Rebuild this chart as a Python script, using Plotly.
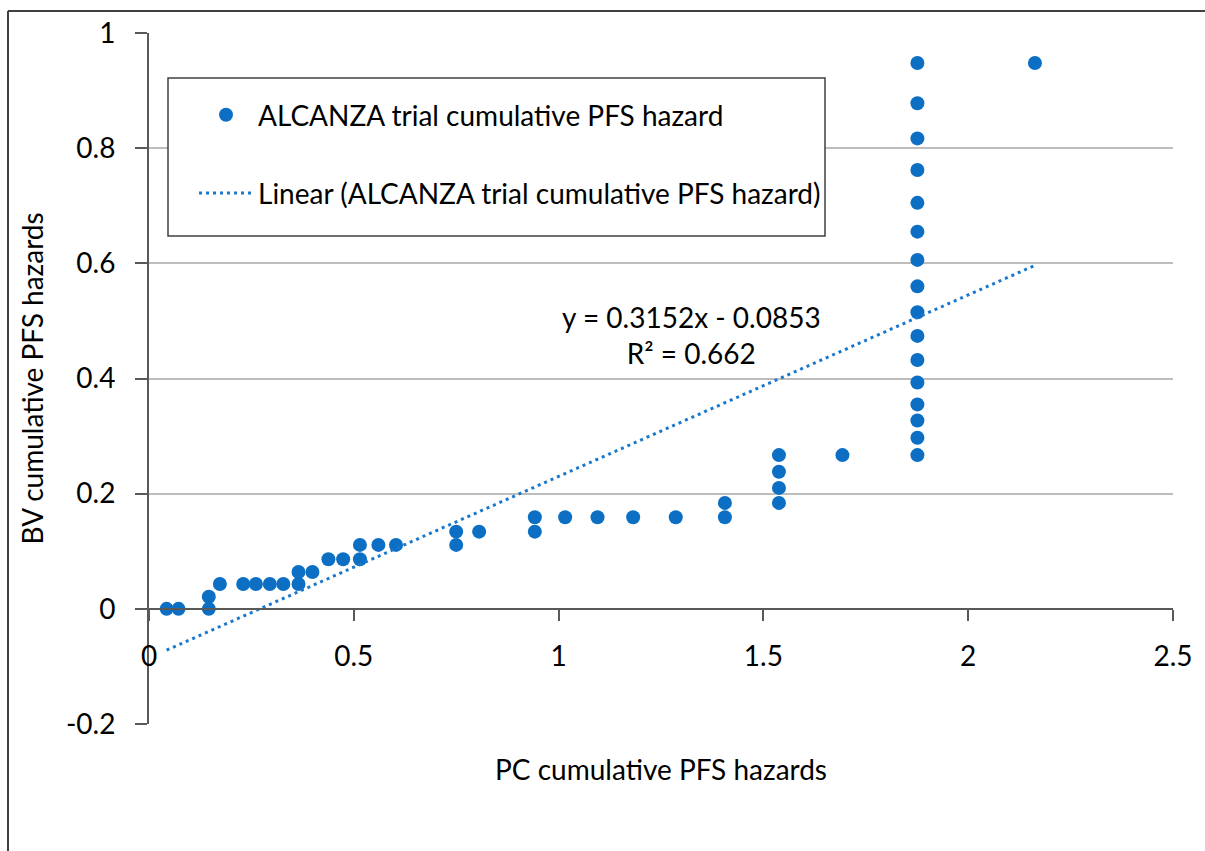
import plotly.graph_objects as go

# PC (x) vs BV (y) cumulative PFS hazards, ALCANZA trial
pc_hazard = [
    0.043, 0.072, 0.146, 0.146, 0.173, 0.230, 0.261, 0.295, 0.328, 0.365,
    0.365, 0.399, 0.438, 0.474, 0.515, 0.515, 0.560, 0.603, 0.750, 0.750,
    0.806, 0.942, 0.942, 1.016, 1.095, 1.182, 1.286, 1.406, 1.406, 1.538,
    1.538, 1.538, 1.538, 1.693,
    1.876, 1.876, 1.876, 1.876, 1.876, 1.876, 1.876, 1.876,
    1.876, 1.876, 1.876, 1.876, 1.876, 1.876, 1.876, 1.876,
    2.163,
]
bv_hazard = [
    0.000, 0.000, 0.000, 0.021, 0.043, 0.043, 0.043, 0.043, 0.043, 0.043,
    0.064, 0.064, 0.086, 0.086, 0.086, 0.111, 0.111, 0.111, 0.111, 0.134,
    0.134, 0.134, 0.159, 0.159, 0.159, 0.159, 0.159, 0.159, 0.184, 0.184,
    0.210, 0.238, 0.267, 0.267,
    0.267, 0.297, 0.327, 0.355, 0.393, 0.432, 0.474, 0.515,
    0.560, 0.606, 0.655, 0.705, 0.762, 0.817, 0.878, 0.948,
    0.948,
]

# Linear trendline as reported on the chart
slope = 0.3152
intercept = -0.0853
r_squared = 0.662

x_tick_vals = [0, 0.5, 1, 1.5, 2, 2.5]
x_tick_text = ["0", "0.5", "1", "1.5", "2", "2.5"]
y_tick_vals = [-0.2, 0, 0.2, 0.4, 0.6, 0.8, 1]
y_tick_text = ["-0.2", "0", "0.2", "0.4", "0.6", "0.8", "1"]

series_name = "ALCANZA trial cumulative PFS hazard"
trend_name = "Linear (ALCANZA trial cumulative PFS hazard)"

FONT = "Lato"
FS = 28
BLUE = "#0C6FC4"
AXIS = "#595959"
GRID = "#BDBDBD"
FRAME = "#404040"

trend_x = [min(pc_hazard), max(pc_hazard)]
trend_y = [slope * v + intercept for v in trend_x]

fig = go.Figure()
fig.add_trace(go.Scatter(
    x=pc_hazard, y=bv_hazard, mode="markers", name=series_name,
    legendgroup="pts",
    marker=dict(color=BLUE, size=14, line=dict(width=0)),
))
fig.add_trace(go.Scatter(
    x=trend_x, y=trend_y, mode="lines", name=trend_name,
    legendgroup="trend",
    line=dict(color="#1A78CC", width=3, dash="3px,4px"),
))

eq_text = f"y = {slope:.4f}x - {abs(intercept):.4f}<br>R² = {r_squared:.3f}"

# pixel -> paper helpers for the layout frames (plot area spans 149..1173 x 33..724)
def px_x(p):
    return (p - 149) / 1024

def px_y(p):
    return (724 - p) / 691

fig.update_layout(
    width=1205, height=851, autosize=False,
    margin=dict(l=149, r=32, t=33, b=127, pad=0),
    paper_bgcolor="white", plot_bgcolor="white",
    font=dict(family=FONT, size=FS, color="#000000"),
    showlegend=True,
    legend=dict(
        x=px_x(194), xanchor="left",
        y=px_y(90), yanchor="top",
        bgcolor="rgba(0,0,0,0)", borderwidth=0,
        font=dict(family=FONT, size=FS, color="#000000"),
        itemwidth=54, tracegroupgap=39,
    ),
    xaxis=dict(
        range=[0, 2.5], tickmode="array", tickvals=x_tick_vals, ticktext=x_tick_text,
        anchor="free", position=1 / 6,
        showline=True, linecolor=AXIS, linewidth=2,
        ticks="outside", ticklen=11, tickwidth=2, tickcolor=AXIS,
        showgrid=False, zeroline=False, ticklabelstandoff=12,
        title=dict(text="PC cumulative PFS hazards", standoff=88,
                   font=dict(family=FONT, size=FS)),
    ),
    yaxis=dict(
        range=[-0.2, 1], tickmode="array", tickvals=y_tick_vals, ticktext=y_tick_text,
        showline=True, linecolor=AXIS, linewidth=2,
        ticks="outside", ticklen=12, tickwidth=2, tickcolor=AXIS,
        showgrid=True, gridcolor=GRID, gridwidth=2, zeroline=False,
        ticklabelstandoff=14,
        title=dict(text="BV cumulative PFS hazards", standoff=14,
                   font=dict(family=FONT, size=FS)),
    ),
    annotations=[dict(
        x=1.325, y=0.475, xref="x", yref="y", text=eq_text, showarrow=False,
        font=dict(family=FONT, size=FS, color="#000000"), align="center",
    )],
    shapes=[
        # outer chart frame: left and top edges
        dict(type="line", xref="paper", yref="paper",
             x0=px_x(8), x1=px_x(8), y0=px_y(851), y1=px_y(11),
             line=dict(color=FRAME, width=2), layer="above"),
        dict(type="line", xref="paper", yref="paper",
             x0=px_x(8), x1=px_x(1205), y0=px_y(11), y1=px_y(11),
             line=dict(color=FRAME, width=2), layer="above"),
        # legend frame
        dict(type="rect", xref="paper", yref="paper",
             x0=px_x(168), x1=px_x(825), y0=px_y(236), y1=px_y(78),
             line=dict(color=FRAME, width=1.5), fillcolor="white",
             layer="above"),
    ],
)

fig.write_html("out.html")
